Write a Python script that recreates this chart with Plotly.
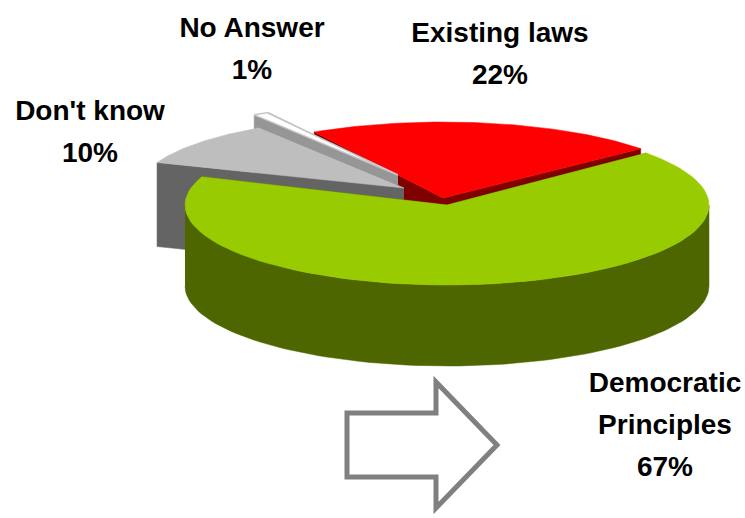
import numpy as np
import plotly.graph_objects as go

categories = ["Existing laws", "No Answer", "Don't know", "Democratic Principles"]
values = [22, 1, 10, 67]

label_lines = [["Existing laws"], ["No Answer"], ["Don't know"], ["Democratic", "Principles"]]
label_x = [500, 252, 90, 665]
label_y = [35, 30, 113, 385]
LINE_GAP = 42

top_colors = ["#FF0000", "#FFFFFF", "#BEBEBE", "#99CC00"]
side_colors = ["#800000", "#969696", "#646464", "#4D6600"]
edge_colors = ["#FF0000", "#C8C8C8", "#BEBEBE", "#99CC00"]

# exploded centre and drawn ellipse of each slice on the page-sized axes
centres_x = [443, 398, 404, 447]
centres_y = [198, 175, 188, 205]
radii_x = [260, 262, 264, 262]
radii_y = [76, 72, 72, 80]
depths = [81, 81, 84, 81]
START = 40.5


def arc(cx, cy, rx, ry, a0, a1, n=90):
    t = np.radians(np.linspace(a0, a1, n))
    return cx + rx * np.cos(t), cy - ry * np.sin(t)


fig = go.Figure()


def poly(x, y, fill, line=None, width=0.5):
    fig.add_trace(go.Scatter(
        x=list(x), y=list(y), mode="lines", fill="toself", fillcolor=fill,
        line=dict(color=line or fill, width=width), hoverinfo="skip", showlegend=False))


angles = START + np.concatenate([[0], np.cumsum(values)]) * 3.6
for i, v in enumerate(values):
    a0, a1 = angles[i], angles[i + 1]
    cx, cy, rx, ry, d = centres_x[i], centres_y[i], radii_x[i], radii_y[i], depths[i]
    ax, ay = arc(cx, cy, rx, ry, a0, a1)
    # radial walls, extruded downward
    for k in (0, -1):
        poly([cx, ax[k], ax[k], cx], [cy, ay[k], ay[k] + d, cy + d], side_colors[i])
    # outer rim: only the part that faces the viewer (180..360 degrees)
    lo, hi = max(a0, 180), min(a1, 360)
    if lo < hi:
        rim_x, rim_y = arc(cx, cy, rx, ry, lo, hi)
        poly(np.concatenate([rim_x, rim_x[::-1]]), np.concatenate([rim_y, rim_y[::-1] + d]), side_colors[i])
    # top face
    poly(np.concatenate([[cx], ax, [cx]]), np.concatenate([[cy], ay, [cy]]), top_colors[i],
         line=edge_colors[i], width=1.5 if i == 1 else 0.5)

# text labels, one line at a time
tx, ty, tt = [], [], []
for i, lines in enumerate(label_lines):
    for j, s in enumerate(lines + [f"{values[i]}%"]):
        tx.append(label_x[i])
        ty.append(label_y[i] + j * LINE_GAP)
        tt.append(s)
fig.add_trace(go.Scatter(
    x=tx, y=ty, text=tt, mode="text", textposition="middle center",
    textfont=dict(family="Liberation Sans", size=28, color="#000000", weight="bold"),
    hoverinfo="skip", showlegend=False, cliponaxis=False))

fig.add_shape(
    type="path",
    path="M 347 413 L 436 413 L 436 382 L 497 445 L 436 508 L 436 477 L 347 477 Z",
    fillcolor="#FFFFFF", line=dict(color="#808080", width=5))

fig.update_layout(
    width=745, height=518, autosize=False,
    margin=dict(l=0, r=0, t=0, b=0),
    paper_bgcolor="#FFFFFF", plot_bgcolor="#FFFFFF", showlegend=False,
    xaxis=dict(range=[0, 745], visible=False, fixedrange=True),
    yaxis=dict(range=[518, 0], visible=False, fixedrange=True),
)
fig.write_html("out.html", config={"displayModeBar": False},
               post_script="document.body.style.margin='0';document.documentElement.style.overflow='hidden';")
